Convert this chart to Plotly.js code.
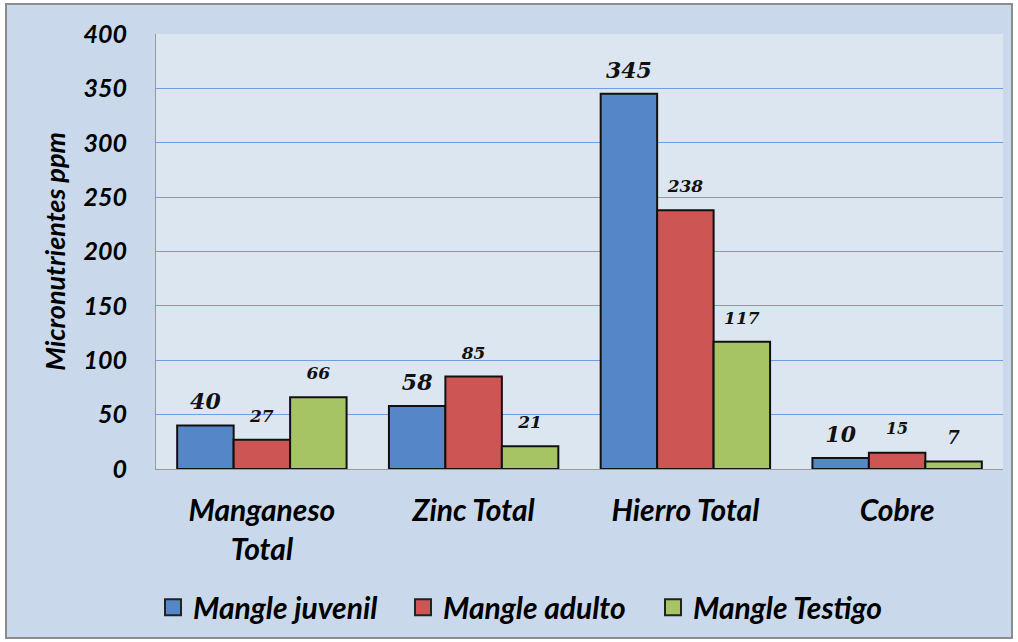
<!DOCTYPE html>
<html>
<head>
<meta charset="utf-8">
<script src="https://cdn.plot.ly/plotly-3.0.1.min.js"></script>
<style>
  html, body { margin: 0; padding: 0; background: #ffffff; }
  #frame { position: absolute; left: 5px; top: 3px; width: 1004px; height: 632px; border: 2px solid #8c8c8c; }
  #chart { width: 1004px; height: 632px; }
</style>
</head>
<body>
<div id="frame"><div id="chart"></div></div>
<script>
const categories = ["Manganeso<br>Total", "Zinc Total", "Hierro Total", "Cobre"];
const seriesNames = ["Mangle juvenil", "Mangle adulto", "Mangle Testigo"];
const juvenil = [40, 58, 345, 10];
const adulto = [27, 85, 238, 15];
const testigo = [66, 21, 117, 7];
const yTicks = [0, 50, 100, 150, 200, 250, 300, 350, 400];

const series = [juvenil, adulto, testigo];
const colors = ["#5587c8", "#cd5553", "#a6c464"];
// per-point label font sizes as in the original
const labelSizes = [
  [22, 22, 22, 22],
  [17, 17, 17, 16],
  [17, 17, 17, 18]
];

const fam = "Lato, 'Open Sans', sans-serif";
const tickFont = { family: fam, size: 25, color: "#000000", weight: "bold", style: "italic" };
const catFont = { family: fam, size: 30, color: "#000000", weight: "bold", style: "italic" };
const titleFont = { family: fam, size: 27, color: "#000000", weight: "bold", style: "italic" };
const labelFontFamily = "'DejaVu Serif', serif";

const traces = [];
series.forEach((vals, i) => {
  traces.push({
    type: "bar",
    name: seriesNames[i],
    x: categories,
    y: vals,
    offsetgroup: "g" + i,
    showlegend: false,
    marker: { color: colors[i], line: { color: "#111111", width: 2 } },
    hoverinfo: "skip"
  });
});
series.forEach((vals, i) => {
  traces.push({
    type: "scatter",
    mode: "markers+text",
    showlegend: false,
    x: categories,
    y: vals,
    offsetgroup: "g" + i,
    text: vals.map(String),
    textposition: "top center",
    cliponaxis: false,
    textfont: { family: labelFontFamily, size: labelSizes[i], color: "#111111", weight: "bold", style: "italic" },
    marker: { size: labelSizes[i].map(fs => 2 * 0.8 * (24 - 0.61 * fs - 1)), opacity: 0, color: colors[i] },
    hoverinfo: "skip"
  });
});
// legend entries with larger square swatches
series.forEach((vals, i) => {
  traces.push({
    type: "scatter",
    mode: "markers",
    name: seriesNames[i],
    x: [null],
    y: [null],
    showlegend: true,
    marker: { symbol: "square", size: 18, color: colors[i], line: { color: "#222222", width: 2 } },
    hoverinfo: "skip"
  });
});

const layout = {
  width: 1004,
  height: 632,
  margin: { l: 149, r: 8, t: 29, b: 168 },
  paper_bgcolor: "#c9d9eb",
  plot_bgcolor: "#dce6f1",
  barmode: "group",
  bargap: 0.2,
  bargroupgap: 0,
  scattermode: "group",
  scattergap: 0.2,
  showlegend: true,
  legend: {
    orientation: "h",
    x: 0.1454, xanchor: "left", xref: "container",
    y: 0.047, yanchor: "middle", yref: "container",
    font: { family: fam, size: 30, color: "#000000", weight: "bold", style: "italic" },
    bgcolor: "rgba(0,0,0,0)",
    itemwidth: 30,
    entrywidth: 205,
    entrywidthmode: "pixels",
    traceorder: "normal"
  },
  xaxis: {
    type: "category",
    tickfont: catFont,
    showline: true, linecolor: "#9a9a9a", linewidth: 1,
    ticks: "", showgrid: false, zeroline: false,
    ticklabelstandoff: 15
  },
  yaxis: {
    range: [0, 400],
    tickvals: yTicks,
    ticktext: yTicks.map(String),
    tickfont: tickFont,
    showline: true, linecolor: "#9a9a9a", linewidth: 1,
    showgrid: true, gridcolor: "#6f9fe0", gridwidth: 1,
    zeroline: false, ticks: "",
    ticklabelstandoff: 23,
    title: { text: "Micronutrientes ppm", font: titleFont, standoff: 10 }
  }
};

Plotly.newPlot("chart", traces, layout, { displayModeBar: false, staticPlot: true });
</script>
</body>
</html>
